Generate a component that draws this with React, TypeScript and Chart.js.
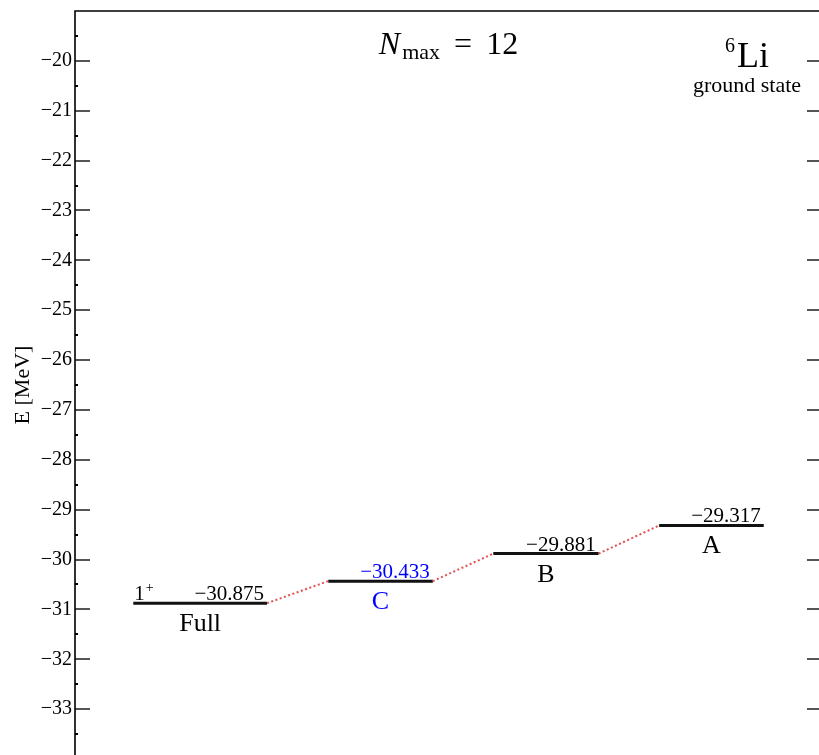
import React, { useEffect, useRef } from "react";
import { Chart, registerables } from "chart.js";

Chart.register(...registerables);

// ---- data ----
const levelNames = ["Full", "C", "B", "A"];
const levelEnergies = [-30.875, -30.433, -29.881, -29.317];
const levelXStart = [7.8, 33.9, 56.0, 78.2];
const levelXEnd = [25.7, 47.9, 70.1, 92.2];
const spinLabel = "1";
const spinParity = "+";
const yMin = -34;
const yMax = -19;
const yTickStep = 1;
const axisTitle = "E [MeV]";
const nucleusMass = "6";
const nucleusSymbol = "Li";
const stateLabel = "ground state";
const nmaxValue = "12";

const SERIF = "'Liberation Serif', 'Times New Roman', serif";
const HIGHLIGHT = "C";
const HIGHLIGHT_COLOR = "#0000ff";

const fmt = (v: number, d = 0) => (v < 0 ? "\u2212" : "") + Math.abs(v).toFixed(d);

const decoPlugin = {
  id: "deco",
  afterDatasetsDraw(chart: any) {
    const ctx = chart.ctx;
    const { left, right, top, bottom } = chart.chartArea;
    const ys = chart.scales.y;
    const xs = chart.scales.x;
    ctx.save();
    // ticks (inward)
    for (let v = yMin + 0.5; v < yMax; v += 0.5) {
      const py = Math.round(ys.getPixelForValue(v));
      const major = Number.isInteger(v);
      ctx.strokeStyle = major ? "#555" : "#000";
      ctx.lineWidth = 2;
      const len = major ? 15 : 3;
      ctx.beginPath();
      ctx.moveTo(left, py);
      ctx.lineTo(left + len, py);
      ctx.moveTo(right, py);
      ctx.lineTo(right - len, py);
      ctx.stroke();
    }
    // frame
    ctx.strokeStyle = "#000";
    ctx.lineWidth = 1.6;
    ctx.beginPath();
    ctx.moveTo(left, bottom);
    ctx.lineTo(left, top);
    ctx.lineTo(right, top);
    ctx.lineTo(right, bottom);
    ctx.stroke();

    // level labels
    ctx.textBaseline = "alphabetic";
    levelNames.forEach((name, i) => {
      const x0 = xs.getPixelForValue(levelXStart[i]);
      const x1 = xs.getPixelForValue(levelXEnd[i]);
      const py = ys.getPixelForValue(levelEnergies[i]);
      const color = name === HIGHLIGHT ? HIGHLIGHT_COLOR : "#000";
      ctx.fillStyle = color;
      ctx.font = `21px ${SERIF}`;
      ctx.textAlign = "right";
      ctx.fillText(fmt(levelEnergies[i], 3), x1 - 3, py - 3);
      ctx.font = `26px ${SERIF}`;
      ctx.textAlign = "center";
      ctx.fillText(name, (x0 + x1) / 2, py + 28);
      if (i === 0) {
        ctx.fillStyle = "#000";
        ctx.textAlign = "left";
        ctx.font = `21px ${SERIF}`;
        ctx.fillText(spinLabel, x0 + 1, py - 3);
        const w = ctx.measureText(spinLabel).width;
        ctx.font = `14px ${SERIF}`;
        ctx.fillText(spinParity, x0 + 2 + w, py - 11);
      }
    });

    // N_max label
    const cx = (left + right) / 2;
    const by = top + 43;
    ctx.fillStyle = "#000";
    ctx.textAlign = "left";
    const fN = `italic 32px ${SERIF}`;
    const fSub = `22px ${SERIF}`;
    const fEq = `32px ${SERIF}`;
    ctx.font = fN;
    const wN = ctx.measureText("N").width;
    ctx.font = fSub;
    const wSub = ctx.measureText("max").width;
    ctx.font = fEq;
    const wEqSign = ctx.measureText("=").width;
    const wNum = ctx.measureText(nmaxValue).width;
    const gap = 14;
    const total = wN + 2 + wSub + gap + wEqSign + gap + wNum;
    let sx = cx - total / 2;
    ctx.font = fN;
    ctx.fillText("N", sx, by);
    sx += wN + 2;
    ctx.font = fSub;
    ctx.fillText("max", sx, by + 5);
    sx += wSub + gap;
    ctx.font = fEq;
    ctx.fillText("=", sx, by);
    sx += wEqSign + gap;
    ctx.fillText(nmaxValue, sx, by);

    // nucleus label
    const nx = right - 75;
    ctx.font = `36px ${SERIF}`;
    const wLi = ctx.measureText(nucleusSymbol).width;
    ctx.font = `20px ${SERIF}`;
    const w6 = ctx.measureText(nucleusMass).width;
    const startX = nx - (wLi + w6 + 2) / 2;
    ctx.fillText(nucleusMass, startX, top + 41);
    ctx.font = `36px ${SERIF}`;
    ctx.fillText(nucleusSymbol, startX + w6 + 2, top + 56);
    ctx.font = `22px ${SERIF}`;
    ctx.textAlign = "center";
    ctx.fillText(stateLabel, nx, top + 81);
    ctx.restore();
  },
};

export default function App() {
  const ref = useRef<HTMLCanvasElement | null>(null);
  useEffect(() => {
    if (!ref.current) return;
    const levelSets = levelNames.map((name, i) => ({
      label: name,
      data: [
        { x: levelXStart[i], y: levelEnergies[i] },
        { x: levelXEnd[i], y: levelEnergies[i] },
      ],
      borderColor: "#111",
      borderWidth: 3,
      pointRadius: 0,
      fill: false,
    }));
    const connSets = levelNames.slice(1).map((name, i) => ({
      label: "conn" + name,
      data: [
        { x: levelXEnd[i], y: levelEnergies[i] },
        { x: levelXStart[i + 1], y: levelEnergies[i + 1] },
      ],
      borderColor: "#e05050",
      borderWidth: 2,
      borderDash: [2, 2.5],
      pointRadius: 0,
      fill: false,
    }));
    const chart = new Chart(ref.current, {
      type: "line",
      data: { datasets: [...connSets, ...levelSets] as any },
      plugins: [decoPlugin],
      options: {
        responsive: false,
        animation: false,
        layout: { padding: { top: 11, right: 8, bottom: 16, left: 0 } },
        plugins: { legend: { display: false }, tooltip: { enabled: false } },
        scales: {
          x: { type: "linear", min: 0, max: 100, display: false },
          y: {
            type: "linear",
            min: yMin,
            max: yMax,
            grid: { display: false, drawTicks: false },
            border: { display: false },
            ticks: {
              stepSize: yTickStep,
              padding: 3,
              color: "#000",
              font: { family: SERIF, size: 20 },
              callback: (v: any) => (v === yMin || v === yMax ? "" : fmt(Number(v))),
            },
            title: {
              display: true,
              text: axisTitle,
              color: "#000",
              font: { family: SERIF, size: 22 },
              padding: { top: 10, bottom: 0 },
            },
            afterFit: (s: any) => {
              s.width = 75;
              s.paddingTop = 0;
              s.paddingBottom = 0;
            },
          },
        },
      },
    });
    return () => chart.destroy();
  }, []);
  return (
    <div style={{ position: "fixed", left: 0, top: 0, width: 819, height: 755, overflow: "hidden", background: "#fff" }}>
      <canvas ref={ref} width={830} height={775} style={{ display: "block" }} />
    </div>
  );
}
